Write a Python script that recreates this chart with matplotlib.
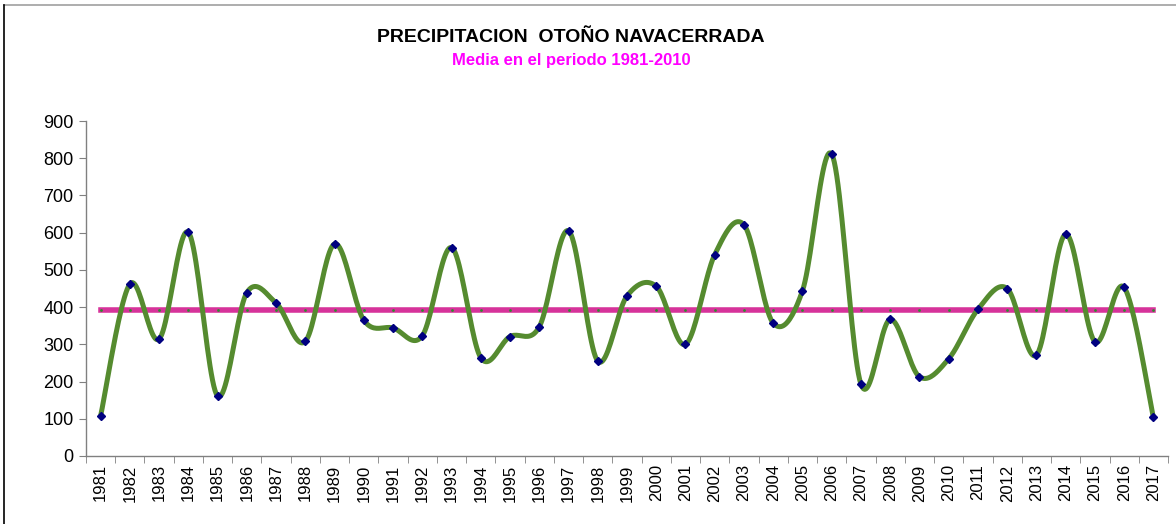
import numpy as np
import matplotlib
matplotlib.use("Agg")
import matplotlib.pyplot as plt
from matplotlib.lines import Line2D

plt.rcParams['font.family'] = ['Liberation Sans', 'DejaVu Sans']

# data
years = list(range(1981, 2018))
precip = [108, 462, 314, 601, 161, 439, 411, 308, 570, 365,
          344, 323, 560, 264, 321, 347, 605, 255, 430, 456,
          300, 541, 621, 357, 444, 811, 193, 367, 213, 261,
          394, 450, 271, 596, 307, 453, 104]
media = 393  # media 1981-2010

title = "PRECIPITACION  OTOÑO NAVACERRADA"
subtitle = "Media en el periodo 1981-2010"


def smooth(x, y, n=24):
    # Excel-style smoothed line (Catmull-Rom via cubic bezier segments)
    x = np.asarray(x, float)
    y = np.asarray(y, float)
    px = np.concatenate([[x[0]], x, [x[-1]]])
    py = np.concatenate([[y[0]], y, [y[-1]]])
    xs, ys = [], []
    t = np.linspace(0, 1, n)
    for i in range(1, len(px) - 2):
        p0 = np.array([px[i], py[i]])
        p3 = np.array([px[i + 1], py[i + 1]])
        c1 = p0 + (np.array([px[i + 1], py[i + 1]]) - np.array([px[i - 1], py[i - 1]])) / 6
        c2 = p3 - (np.array([px[i + 2], py[i + 2]]) - np.array([px[i], py[i]])) / 6
        b = ((1 - t) ** 3)[:, None] * p0 + (3 * (1 - t) ** 2 * t)[:, None] * c1 \
            + (3 * (1 - t) * t ** 2)[:, None] * c2 + (t ** 3)[:, None] * p3
        xs.extend(b[:, 0])
        ys.extend(b[:, 1])
    return np.array(xs), np.array(ys)


fig = plt.figure(figsize=(11.76, 5.24), dpi=100)
ax = fig.add_axes([86 / 1176, 68 / 524, 1082 / 1176, 335 / 524])

xpos = np.arange(len(years))
ax.plot(xpos, [media] * len(years), color='#D6339A', lw=4, zorder=2,
        marker='o', markersize=2, markerfacecolor='#2E8B2E', markeredgecolor='none')

sx, sy = smooth(xpos, precip)
ax.plot(sx, sy, color='#558B2F', lw=3.6, solid_capstyle='round', zorder=3)
ax.plot(xpos, precip, ls='none', marker='D', markersize=4.5,
        markerfacecolor='#000080', markeredgecolor='#000080', zorder=4)

ax.set_xlim(-0.5, len(years) - 0.5)
ax.set_ylim(0, 900)
ax.set_yticks(range(0, 901, 100))
ax.set_xticks(xpos)
ax.set_xticklabels([str(y) for y in years], rotation=90, fontsize=12)
ax.tick_params(axis='x', length=0, pad=6)
ax.set_xticks(np.arange(-0.5, len(years), 1), minor=True)
ax.tick_params(axis='x', which='minor', length=5, color='#808080', direction='out')
ax.tick_params(axis='y', labelsize=13, length=5, color='#808080', pad=4)

for side in ['top', 'right']:
    ax.spines[side].set_visible(False)
for side in ['left', 'bottom']:
    ax.spines[side].set_color('#808080')
    ax.spines[side].set_linewidth(1)

fig.text(571 / 1176, 1 - 38 / 524, title, ha='center', va='center',
         fontsize=14, fontweight='bold', color='black')
fig.text(571 / 1176, 1 - 60 / 524, subtitle, ha='center', va='center',
         fontsize=12, fontweight='bold', color='#FF00FF')

# chart frame
fig.add_artist(Line2D([4 / 1176, 1], [1 - 5 / 524, 1 - 5 / 524], color='#A0A0A0', lw=1.2))
fig.add_artist(Line2D([4 / 1176, 4 / 1176], [0, 1 - 5 / 524], color='black', lw=1.2))

fig.savefig('out.png', dpi=100)
